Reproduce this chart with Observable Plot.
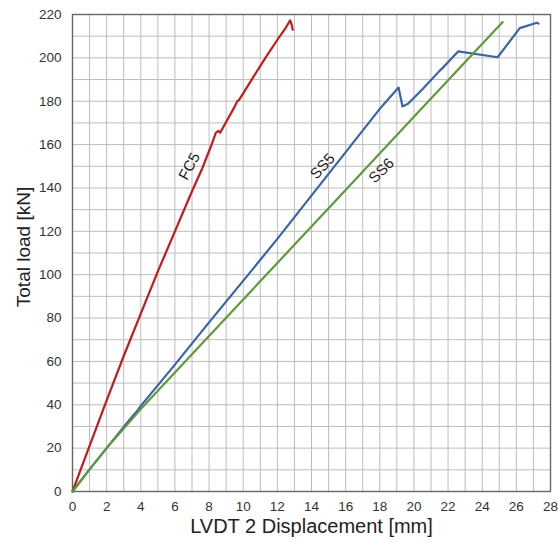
<!DOCTYPE html>
<html>
<head>
<meta charset="utf-8">
<script src="https://cdn.jsdelivr.net/npm/d3@7"></script>
<script src="https://cdn.jsdelivr.net/npm/@observablehq/plot@0.6"></script>
<style>
  html, body { margin: 0; padding: 0; background: #fff; }
</style>
</head>
<body>
<div id="chart"></div>
<script>
// ---- data ----
const xTicks = [0, 2, 4, 6, 8, 10, 12, 14, 16, 18, 20, 22, 24, 26, 28];
const yTicks = [0, 20, 40, 60, 80, 100, 120, 140, 160, 180, 200, 220];
const xGrid = d3.range(0, 29, 1);
const yGrid = d3.range(0, 221, 10);

const fc5 = [[0,0],[0.5,10.5],[1,21],[2,42],[3,62.5],[4,82],[5,101.5],[6,120],[7,138.5],[7.6,149],[8.1,159],[8.4,165.5],[8.55,166.3],[8.65,165.5],[8.9,169],[9.5,177.5],[9.65,180],[9.75,180.5],[10.5,190],[11.3,200],[12.1,209.5],[12.5,214],[12.75,217.3],[12.85,215],[12.9,213]];
const ss5 = [[0,0],[1,10.2],[2,20],[3,29.8],[3.6,35.5],[3.7,36.3],[4,39.5],[6,58.5],[8,78],[10.5,102],[12,116.5],[13.8,134.5],[16.2,158.5],[18,176.5],[19.1,186.3],[19.33,177.6],[19.65,178.8],[20.5,185.5],[21.5,194],[21.7,195.5],[22.6,203],[24.9,200.3],[26.2,213.7],[27.2,216.2],[27.3,215.8]];
const ss6 = [[0,0],[1,10.2],[2,20],[3,29],[4,38],[8,71.7],[12,105.4],[16,139.1],[20,172.8],[25.2,216.5]];

const seriesNames = ["FC5", "SS5", "SS6"];
const seriesColors = ["#c41a1a", "#3b63a8", "#5f9a3a"];
const labelX = [6.85, 14.65, 18.1];
const labelY = [150, 150, 148];
const labelAngle = [-62, -47, -45];

// ---- build table ----
const rows = [];
[fc5, ss5, ss6].forEach((s, i) => s.forEach(([x, y]) => rows.push({series: seriesNames[i], x, y})));
const labels = seriesNames.map((n, i) => ({name: n, x: labelX[i], y: labelY[i], a: labelAngle[i]}));

const chart = Plot.plot({
  width: 559,
  height: 542,
  marginLeft: 72,
  marginRight: 9,
  marginTop: 14,
  marginBottom: 51,
  style: {fontFamily: "'Liberation Sans', Arial, sans-serif", fontSize: "13px", color: "#333", background: "#fff"},
  x: {domain: [0, 28]},
  y: {domain: [0, 220]},
  color: {domain: seriesNames, range: seriesColors},
  marks: [
    Plot.ruleX(xGrid, {stroke: "#bdbdbd", strokeWidth: 1}),
    Plot.ruleY(yGrid, {stroke: "#bdbdbd", strokeWidth: 1}),
    Plot.frame({stroke: "#666", strokeWidth: 1.4}),
    Plot.axisX({ticks: xTicks, tickSize: 0, tickPadding: 10, label: null, fontSize: 13.5, fill: "#333"}),
    Plot.axisY({ticks: yTicks, tickSize: 0, tickPadding: 11, label: null, fontSize: 13.5, fill: "#333"}),
    Plot.line(rows, {x: "x", y: "y", z: "series", stroke: "series", strokeWidth: 2.2, strokeLinejoin: "round"}),
    Plot.text(labels, {x: "x", y: "y", text: "name", rotate: "a", fontSize: 15, fill: "#222"}),
    Plot.text(["LVDT 2 Displacement [mm]"], {frameAnchor: "bottom", lineAnchor: "middle", textAnchor: "middle", dy: 35, fontSize: 20, fill: "#222"}),
    Plot.text(["Total load [kN]"], {frameAnchor: "left", lineAnchor: "middle", textAnchor: "middle", dx: -49, dy: -6, rotate: -90, fontSize: 19, fill: "#222"})
  ]
});
document.getElementById("chart").appendChild(chart);
</script>
</body>
</html>
